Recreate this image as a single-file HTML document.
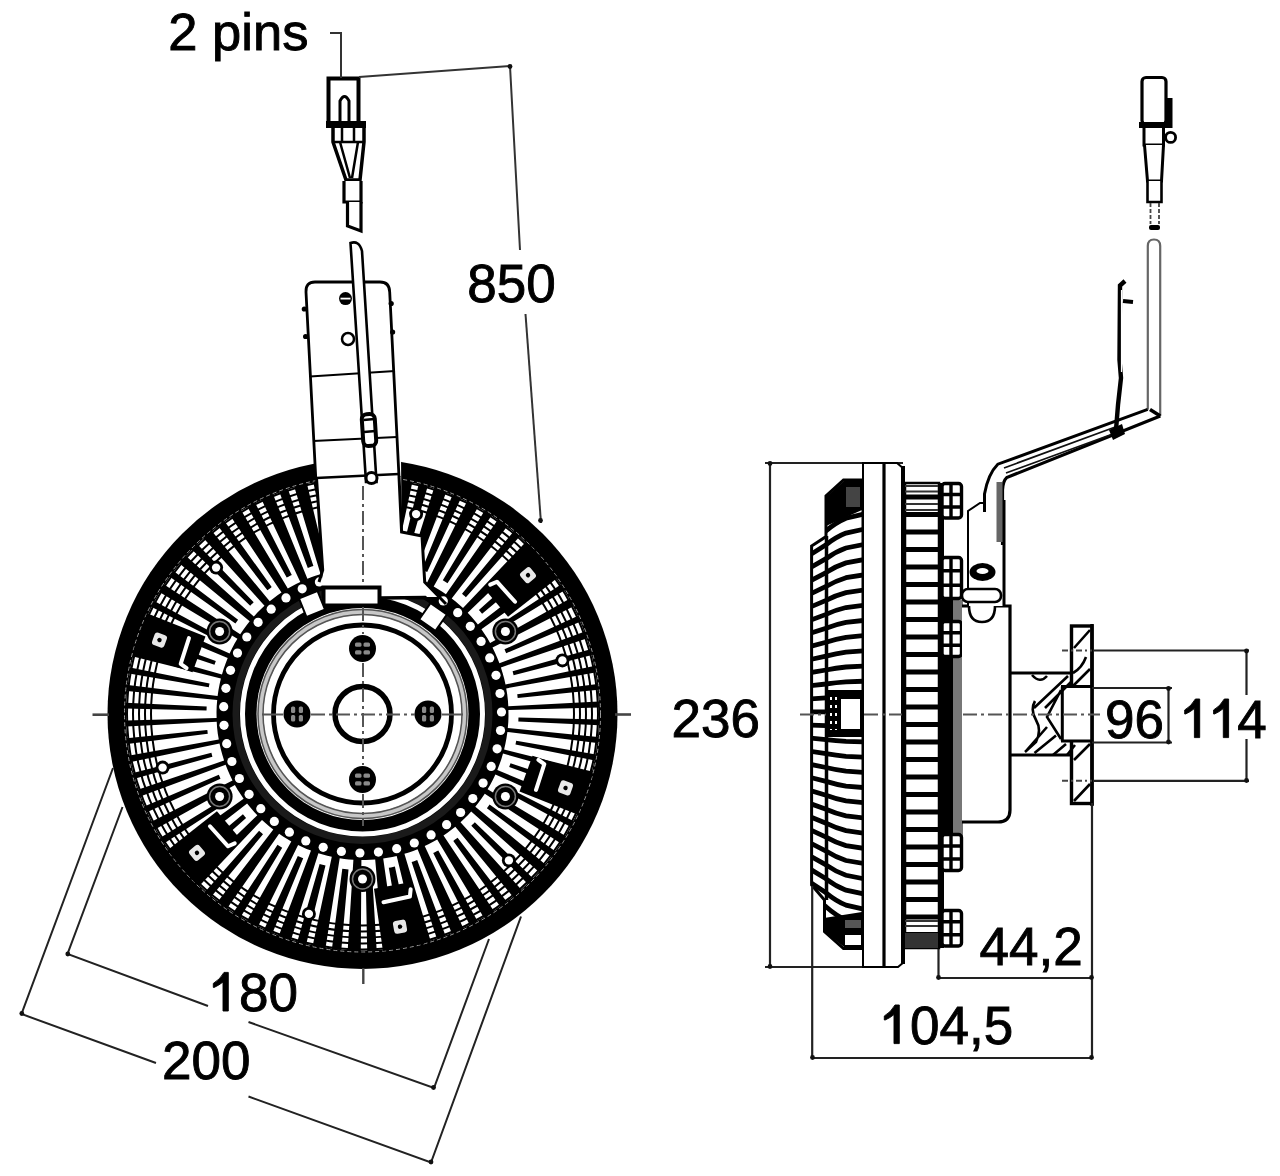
<!DOCTYPE html>
<html><head><meta charset="utf-8"><title>Fan clutch drawing</title>
<style>
html,body{margin:0;padding:0;background:#fff;}
svg{display:block;}
text{font-family:"Liberation Sans",sans-serif;}
</style></head><body>
<svg width="1280" height="1176" viewBox="0 0 1280 1176">
<rect width="1280" height="1176" fill="#fff"/>
<circle cx="362.5" cy="714" r="255" fill="#000"/>
<circle cx="362.5" cy="714" r="238" fill="none" stroke="#999" stroke-width="1" stroke-dasharray="4 3"/>
<path d="M508.4,710.1 L508.5,716.1 L508.3,722.1 L507.8,728.1 L597.9,736.9 L598.6,727.1 L599,717.4 L598.9,707.6ZM507.4,732 L506.5,737.9 L505.4,743.7 L504.1,749.5 L591.9,771.5 L594.1,762.1 L595.8,752.6 L597.2,743.1ZM503,753.6 L501.4,759.1 L499.4,764.6 L497.3,770 L580.9,804.7 L584.3,796 L587.4,787.1 L590.1,778.1ZM495.4,774.4 L493,779.4 L490.4,784.4 L487.6,789.2 L565.2,835.8 L569.7,828 L573.9,820 L577.8,811.8ZM484.8,793.8 L481.7,798.2 L478.6,802.5 L475.3,806.7 L545.2,864.2 L550.5,857.4 L555.7,850.5 L560.5,843.3ZM471.2,811.4 L467.8,815.2 L464.2,818.8 L460.5,822.3 L521.2,889.4 L527.2,883.7 L533,877.9 L538.7,871.8ZM455.3,826.7 L451.4,829.8 L447.5,832.7 L443.5,835.5 L493.7,910.8 L500.2,906.3 L506.6,901.5 L512.8,896.6ZM437.2,839.4 L433.1,841.8 L428.9,844 L424.7,846.1 L463.2,928 L470.1,924.6 L476.9,921 L483.6,917.2ZM417.6,849.2 L413.2,850.9 L408.9,852.4 L404.4,853.8 L430.5,940.5 L437.6,938.3 L444.7,935.8 L451.7,933ZM396.7,855.9 L392.3,856.9 L387.7,857.8 L383.2,858.5 L396,948.1 L403.4,946.9 L410.7,945.5 L418,943.9ZM375.2,859.4 L370.6,859.8 L366,860 L361.4,860 L360.8,950.5 L368.2,950.4 L375.6,950.1 L383.1,949.6ZM353.4,859.7 L348.8,859.4 L344.2,858.9 L339.7,858.2 L325.6,947.6 L332.9,948.6 L340.3,949.5 L347.7,950ZM331.8,856.7 L327.3,855.7 L322.8,854.5 L318.4,853.2 L291.1,939.5 L298.3,941.6 L305.5,943.5 L312.8,945.2ZM311,850.6 L306.6,848.9 L302.3,847 L298.1,845 L258.2,926.2 L265,929.5 L272,932.5 L279,935.3ZM291.3,841.5 L287.2,839.1 L283.1,836.5 L279.1,833.8 L227.4,908.1 L233.9,912.5 L240.5,916.6 L247.2,920.5ZM273.3,829.6 L269.4,826.5 L265.7,823.3 L262,819.9 L199.7,885.5 L205.6,891 L211.8,896.2 L218.1,901.3ZM257.3,815.3 L253.8,811.5 L250.4,807.5 L247.1,803.5 L175.6,858.9 L180.9,865.5 L186.4,871.9 L192.2,878.1ZM243.6,798.8 L240.6,794.3 L237.6,789.7 L234.9,784.9 L155.8,828.9 L160.2,836.6 L165,844 L170,851.3ZM232.5,780.4 L230,775.3 L227.7,770.1 L225.6,764.8 L140.8,796.3 L144.2,804.9 L147.9,813.3 L151.9,821.6ZM224.1,760.6 L222.4,755 L220.8,749.3 L219.5,743.6 L130.9,761.9 L133,771.2 L135.5,780.4 L138.4,789.5ZM218.8,739.6 L217.8,733.7 L217.1,727.7 L216.7,721.7 L126.3,726.5 L127,736.2 L128.2,745.9 L129.7,755.5ZM216.6,717.9 L216.5,711.9 L216.7,705.9 L217.2,699.9 L127.1,691.1 L126.4,700.9 L126,710.6 L126.1,720.4ZM217.6,696 L218.5,690.1 L219.6,684.3 L220.9,678.5 L133.1,656.5 L130.9,665.9 L129.2,675.4 L127.8,684.9ZM222,674.4 L223.6,668.9 L225.6,663.4 L227.7,658 L144.1,623.3 L140.7,632 L137.6,640.9 L134.9,649.9ZM229.6,653.6 L232,648.6 L234.6,643.6 L237.4,638.8 L159.8,592.2 L155.3,600 L151.1,608 L147.2,616.2ZM240.2,634.2 L243.3,629.8 L246.4,625.5 L249.7,621.3 L179.8,563.8 L174.5,570.6 L169.3,577.5 L164.5,584.7ZM253.8,616.6 L257.2,612.8 L260.8,609.2 L264.5,605.7 L203.8,538.6 L197.8,544.3 L192,550.1 L186.3,556.2ZM269.7,601.3 L273.6,598.2 L277.5,595.3 L281.5,592.5 L231.3,517.2 L224.8,521.7 L218.4,526.5 L212.2,531.4ZM287.8,588.6 L291.9,586.2 L296.1,584 L300.3,581.9 L261.8,500 L254.9,503.4 L248.1,507 L241.4,510.8ZM307.4,578.8 L311.8,577.1 L316.1,575.6 L320.6,574.2 L294.5,487.5 L287.4,489.7 L280.3,492.2 L273.3,495ZM328.3,572.1 L332.7,571.1 L337.3,570.2 L341.8,569.5 L329,479.9 L321.6,481.1 L314.3,482.5 L307,484.1ZM349.8,568.6 L354.4,568.2 L359,568 L363.6,568 L364.2,477.5 L356.8,477.6 L349.4,477.9 L341.9,478.4ZM371.6,568.3 L376.2,568.6 L380.8,569.1 L385.3,569.8 L399.4,480.4 L392.1,479.4 L384.7,478.5 L377.3,478ZM393.2,571.3 L397.7,572.3 L402.2,573.5 L406.6,574.8 L433.9,488.5 L426.7,486.4 L419.5,484.5 L412.2,482.8ZM414,577.4 L418.4,579.1 L422.7,581 L426.9,583 L466.8,501.8 L460,498.5 L453,495.5 L446,492.7ZM433.7,586.5 L437.8,588.9 L441.9,591.5 L445.9,594.2 L497.6,519.9 L491.1,515.5 L484.5,511.4 L477.8,507.5ZM451.7,598.4 L455.6,601.5 L459.3,604.7 L463,608.1 L525.3,542.5 L519.4,537 L513.2,531.8 L506.9,526.7ZM467.7,612.7 L471.2,616.5 L474.6,620.5 L477.9,624.5 L549.4,569.1 L544.1,562.5 L538.6,556.1 L532.8,549.9ZM481.4,629.2 L484.4,633.7 L487.4,638.3 L490.1,643.1 L569.2,599.1 L564.8,591.4 L560,584 L555,576.7ZM492.5,647.6 L495,652.7 L497.3,657.9 L499.4,663.2 L584.2,631.7 L580.8,623.1 L577.1,614.7 L573.1,606.4ZM500.9,667.4 L502.6,673 L504.2,678.7 L505.5,684.4 L594.1,666.1 L592,656.8 L589.5,647.6 L586.6,638.5ZM506.2,688.4 L507.2,694.3 L507.9,700.3 L508.3,706.3 L598.7,701.5 L598,691.8 L596.8,682.1 L595.3,672.5Z" fill="#fff"/>
<path d="M518.5,717.5 L518.4,718.8 L518.4,720.1 L518.3,721.4 L599.2,725.2 L599.3,723.2 L599.4,721.3 L599.4,719.4ZM516.2,740.7 L516,742 L515.7,743.3 L515.5,744.5 L594.9,760.4 L595.3,758.4 L595.7,756.5 L596,754.6ZM510.5,763.2 L510.1,764.5 L509.6,765.8 L509.2,767.1 L585.4,794.6 L586.1,792.7 L586.7,790.7 L587.4,788.8ZM501.6,784.6 L500.9,785.9 L500.3,787.2 L499.6,788.5 L570.8,827.1 L571.8,825.2 L572.8,823.2 L573.8,821.3ZM489.6,804.4 L488.7,805.7 L487.8,806.9 L486.9,808.2 L551.4,857.1 L552.8,855.2 L554.2,853.3 L555.6,851.4ZM474.8,822.2 L473.7,823.4 L472.5,824.6 L471.3,825.8 L527.8,883.9 L529.6,882.1 L531.4,880.3 L533.2,878.4ZM457.6,837.7 L456.2,838.7 L454.7,839.8 L453.3,840.9 L500.4,906.8 L502.6,905.1 L504.8,903.5 L507,901.9ZM438.3,850.4 L436.6,851.3 L434.9,852.2 L433.2,853.1 L469.9,925.3 L472.5,923.9 L475,922.6 L477.6,921.2ZM417.2,860.1 L415.3,860.8 L413.4,861.4 L411.6,862.1 L437,939 L439.9,938 L442.8,937 L445.6,935.9ZM394.9,866.6 L392.9,867 L390.9,867.4 L388.8,867.8 L402.5,947.6 L405.6,947 L408.7,946.5 L411.7,945.8ZM371.8,869.7 L369.8,869.8 L367.7,869.9 L365.6,870 L367.2,951 L370.4,950.9 L373.5,950.7 L376.7,950.6ZM348.5,869.4 L346.5,869.2 L344.4,868.9 L342.3,868.7 L331.9,949 L335,949.4 L338.1,949.7 L341.3,950ZM325.5,865.5 L323.5,865 L321.5,864.5 L319.6,864 L297.3,941.8 L300.2,942.7 L303.2,943.5 L306.2,944.2ZM303.2,858.3 L301.4,857.5 L299.6,856.7 L297.8,855.9 L264.2,929.6 L266.9,930.9 L269.6,932 L272.4,933.2ZM282.2,847.8 L280.6,846.8 L279,845.8 L277.5,844.8 L233.3,912.7 L235.7,914.2 L238.1,915.7 L240.5,917.2ZM263,834.2 L261.7,833.1 L260.4,831.9 L259.1,830.8 L205.4,891.4 L207.4,893.2 L209.4,894.9 L211.4,896.6ZM246.1,817.9 L245,816.7 L244,815.4 L242.9,814.2 L180.9,866.2 L182.4,868.1 L184.1,870 L185.7,871.8ZM231.8,799.2 L231,798 L230.2,796.7 L229.4,795.4 L160.3,837.7 L161.5,839.6 L162.8,841.6 L164,843.5ZM220.5,778.7 L220,777.4 L219.4,776.1 L218.8,774.8 L144.2,806.4 L145.1,808.3 L145.9,810.3 L146.8,812.2ZM212.4,756.7 L212.1,755.4 L211.7,754.1 L211.4,752.8 L133,773 L133.5,774.9 L134,776.9 L134.5,778.8ZM207.8,733.8 L207.6,732.5 L207.5,731.2 L207.3,729.9 L126.7,738.2 L126.9,740.2 L127.2,742.1 L127.4,744ZM206.5,710.5 L206.6,709.2 L206.6,707.9 L206.7,706.6 L125.8,702.8 L125.7,704.8 L125.6,706.7 L125.6,708.6ZM208.8,687.3 L209,686 L209.3,684.7 L209.5,683.5 L130.1,667.6 L129.7,669.6 L129.3,671.5 L129,673.4ZM214.5,664.8 L214.9,663.5 L215.4,662.2 L215.8,660.9 L139.6,633.4 L138.9,635.3 L138.3,637.3 L137.6,639.2ZM223.4,643.4 L224.1,642.1 L224.7,640.8 L225.4,639.5 L154.2,600.9 L153.2,602.8 L152.2,604.8 L151.2,606.7ZM235.4,623.6 L236.3,622.3 L237.2,621.1 L238.1,619.8 L173.6,570.9 L172.2,572.8 L170.8,574.7 L169.4,576.6ZM250.2,605.8 L251.3,604.6 L252.5,603.4 L253.7,602.2 L197.2,544.1 L195.4,545.9 L193.6,547.7 L191.8,549.6ZM267.4,590.3 L268.8,589.3 L270.3,588.2 L271.7,587.1 L224.6,521.2 L222.4,522.9 L220.2,524.5 L218,526.1ZM286.7,577.6 L288.4,576.7 L290.1,575.8 L291.8,574.9 L255.1,502.7 L252.5,504.1 L250,505.4 L247.4,506.8ZM307.8,567.9 L309.7,567.2 L311.6,566.6 L313.4,565.9 L288,489 L285.1,490 L282.2,491 L279.4,492.1ZM330.1,561.4 L332.1,561 L334.1,560.6 L336.2,560.2 L322.5,480.4 L319.4,481 L316.3,481.5 L313.3,482.2ZM353.2,558.3 L355.2,558.2 L357.3,558.1 L359.4,558 L357.8,477 L354.6,477.1 L351.5,477.3 L348.3,477.4ZM376.5,558.6 L378.5,558.8 L380.6,559.1 L382.7,559.3 L393.1,479 L390,478.6 L386.9,478.3 L383.7,478ZM399.5,562.5 L401.5,563 L403.5,563.5 L405.4,564 L427.7,486.2 L424.8,485.3 L421.8,484.5 L418.8,483.8ZM421.8,569.7 L423.6,570.5 L425.4,571.3 L427.2,572.1 L460.8,498.4 L458.1,497.1 L455.4,496 L452.6,494.8ZM442.8,580.2 L444.4,581.2 L446,582.2 L447.5,583.2 L491.7,515.3 L489.3,513.8 L486.9,512.3 L484.5,510.8ZM462,593.8 L463.3,594.9 L464.6,596.1 L465.9,597.2 L519.6,536.6 L517.6,534.8 L515.6,533.1 L513.6,531.4ZM478.9,610.1 L480,611.3 L481,612.6 L482.1,613.8 L544.1,561.8 L542.6,559.9 L540.9,558 L539.3,556.2ZM493.2,628.8 L494,630 L494.8,631.3 L495.6,632.6 L564.7,590.3 L563.5,588.4 L562.2,586.4 L561,584.5ZM504.5,649.3 L505,650.6 L505.6,651.9 L506.2,653.2 L580.8,621.6 L579.9,619.7 L579.1,617.7 L578.2,615.8ZM512.6,671.3 L512.9,672.6 L513.3,673.9 L513.6,675.2 L592,655 L591.5,653.1 L591,651.1 L590.5,649.2ZM517.2,694.2 L517.4,695.5 L517.5,696.8 L517.7,698.1 L598.3,689.8 L598.1,687.8 L597.8,685.9 L597.6,684Z" fill="#000"/>
<circle cx="362.5" cy="714" r="211.5" fill="none" stroke="#000" stroke-width="2"/>
<circle cx="362.5" cy="714" r="217.5" fill="none" stroke="#000" stroke-width="2"/>
<circle cx="362.5" cy="714" r="223.5" fill="none" stroke="#000" stroke-width="2"/>
<circle cx="362.5" cy="714" r="229.5" fill="none" stroke="#000" stroke-width="2"/>
<circle cx="362.5" cy="714" r="235.5" fill="none" stroke="#000" stroke-width="2"/>
<g fill="#fff"><circle cx="500.5" cy="730.5" r="4.6"/><circle cx="497.1" cy="748.8" r="4.6"/><circle cx="491.2" cy="766.4" r="4.6"/><circle cx="483.1" cy="783.1" r="4.6"/><circle cx="472.8" cy="798.6" r="4.6"/><circle cx="460.6" cy="812.5" r="4.6"/><circle cx="446.6" cy="824.7" r="4.6"/><circle cx="431.1" cy="834.9" r="4.6"/><circle cx="414.3" cy="843" r="4.6"/><circle cx="396.7" cy="848.7" r="4.6"/><circle cx="378.4" cy="852.1" r="4.6"/><circle cx="359.9" cy="853" r="4.6"/><circle cx="341.4" cy="851.4" r="4.6"/><circle cx="323.2" cy="847.3" r="4.6"/><circle cx="305.8" cy="840.9" r="4.6"/><circle cx="289.4" cy="832.2" r="4.6"/><circle cx="274.3" cy="821.4" r="4.6"/><circle cx="260.8" cy="808.7" r="4.6"/><circle cx="249.1" cy="794.3" r="4.6"/><circle cx="239.4" cy="778.5" r="4.6"/><circle cx="231.9" cy="761.5" r="4.6"/><circle cx="226.7" cy="743.7" r="4.6"/><circle cx="224" cy="725.3" r="4.6"/><circle cx="223.7" cy="706.7" r="4.6"/><circle cx="225.9" cy="688.3" r="4.6"/><circle cx="230.5" cy="670.3" r="4.6"/><circle cx="237.5" cy="653.1" r="4.6"/><circle cx="246.8" cy="637" r="4.6"/><circle cx="258.1" cy="622.3" r="4.6"/><circle cx="271.2" cy="609.2" r="4.6"/><circle cx="286" cy="597.9" r="4.6"/><circle cx="302.2" cy="588.8" r="4.6"/><circle cx="319.4" cy="581.9" r="4.6"/><circle cx="337.4" cy="577.3" r="4.6"/><circle cx="355.8" cy="575.2" r="4.6"/><circle cx="374.4" cy="575.5" r="4.6"/><circle cx="392.8" cy="578.3" r="4.6"/><circle cx="410.6" cy="583.6" r="4.6"/><circle cx="427.5" cy="591.1" r="4.6"/><circle cx="443.3" cy="600.9" r="4.6"/><circle cx="457.7" cy="612.7" r="4.6"/><circle cx="470.3" cy="626.3" r="4.6"/><circle cx="481.1" cy="641.4" r="4.6"/><circle cx="489.7" cy="657.9" r="4.6"/><circle cx="496" cy="675.3" r="4.6"/><circle cx="500" cy="693.5" r="4.6"/><circle cx="501.5" cy="712" r="4.6"/></g>
<circle cx="362.5" cy="714" r="126.5" fill="none" stroke="#1a1a1a" stroke-width="7"/>
<circle cx="362.5" cy="714" r="120" fill="none" stroke="#fff" stroke-width="5"/>
<circle cx="362.5" cy="714" r="111.8" fill="#000"/>
<circle cx="362.5" cy="714" r="106" fill="#fff"/>
<circle cx="362.5" cy="714" r="102" fill="none" stroke="#c8c8c8" stroke-width="6"/>
<circle cx="362.5" cy="714" r="104.5" fill="none" stroke="#555" stroke-width="1.5"/>
<circle cx="362.5" cy="714" r="99.5" fill="none" stroke="#555" stroke-width="1.5"/>
<circle cx="362.5" cy="714" r="89" fill="#fff" stroke="#000" stroke-width="4.8"/>
<circle cx="219.6" cy="631.5" r="13" fill="#000"/>
<circle cx="219.6" cy="631.5" r="10" fill="none" stroke="#777" stroke-width="1.5"/>
<circle cx="219.6" cy="631.5" r="4.5" fill="#fff"/>
<circle cx="505.4" cy="631.5" r="13" fill="#000"/>
<circle cx="505.4" cy="631.5" r="10" fill="none" stroke="#777" stroke-width="1.5"/>
<circle cx="505.4" cy="631.5" r="4.5" fill="#fff"/>
<circle cx="505.4" cy="796.5" r="13" fill="#000"/>
<circle cx="505.4" cy="796.5" r="10" fill="none" stroke="#777" stroke-width="1.5"/>
<circle cx="505.4" cy="796.5" r="4.5" fill="#fff"/>
<circle cx="362.5" cy="879" r="13" fill="#000"/>
<circle cx="362.5" cy="879" r="10" fill="none" stroke="#777" stroke-width="1.5"/>
<circle cx="362.5" cy="879" r="4.5" fill="#fff"/>
<circle cx="219.6" cy="796.5" r="13" fill="#000"/>
<circle cx="219.6" cy="796.5" r="10" fill="none" stroke="#777" stroke-width="1.5"/>
<circle cx="219.6" cy="796.5" r="4.5" fill="#fff"/>
<g transform="translate(159.5 640.1) rotate(-160)"><path d="M-42,-19 L21,-21 L21,21 L-42,19 Z" fill="#000"/><rect x="-6.5" y="-6.5" width="13" height="13" rx="3" fill="#e8e8e8"/><circle r="2.2" fill="#000"/><path d="M-35,-17 L-28,-15 L-27,12" fill="none" stroke="#fff" stroke-width="4" stroke-linecap="round" stroke-linejoin="round"/></g>
<g transform="translate(528 575.2) rotate(-40)"><path d="M-42,-19 L21,-21 L21,21 L-42,19 Z" fill="#000"/><rect x="-6.5" y="-6.5" width="13" height="13" rx="3" fill="#e8e8e8"/><circle r="2.2" fill="#000"/><path d="M-35,-17 L-28,-15 L-27,12" fill="none" stroke="#fff" stroke-width="4" stroke-linecap="round" stroke-linejoin="round"/></g>
<g transform="translate(565.5 787.9) rotate(20)"><path d="M-42,-19 L21,-21 L21,21 L-42,19 Z" fill="#000"/><rect x="-6.5" y="-6.5" width="13" height="13" rx="3" fill="#e8e8e8"/><circle r="2.2" fill="#000"/><path d="M-35,-17 L-28,-15 L-27,12" fill="none" stroke="#fff" stroke-width="4" stroke-linecap="round" stroke-linejoin="round"/></g>
<g transform="translate(400 926.7) rotate(80)"><path d="M-42,-19 L21,-21 L21,21 L-42,19 Z" fill="#000"/><rect x="-6.5" y="-6.5" width="13" height="13" rx="3" fill="#e8e8e8"/><circle r="2.2" fill="#000"/><path d="M-35,-17 L-28,-15 L-27,12" fill="none" stroke="#fff" stroke-width="4" stroke-linecap="round" stroke-linejoin="round"/></g>
<g transform="translate(197 852.8) rotate(140)"><path d="M-42,-19 L21,-21 L21,21 L-42,19 Z" fill="#000"/><rect x="-6.5" y="-6.5" width="13" height="13" rx="3" fill="#e8e8e8"/><circle r="2.2" fill="#000"/><path d="M-35,-17 L-28,-15 L-27,12" fill="none" stroke="#fff" stroke-width="4" stroke-linecap="round" stroke-linejoin="round"/></g>
<circle cx="216.1" cy="567.6" r="7" fill="#000"/><circle cx="216.1" cy="567.6" r="4.2" fill="#fff"/>
<circle cx="416.1" cy="514.1" r="7" fill="#000"/><circle cx="416.1" cy="514.1" r="4.2" fill="#fff"/>
<circle cx="562.4" cy="660.4" r="7" fill="#000"/><circle cx="562.4" cy="660.4" r="4.2" fill="#fff"/>
<circle cx="508.9" cy="860.4" r="7" fill="#000"/><circle cx="508.9" cy="860.4" r="4.2" fill="#fff"/>
<circle cx="308.9" cy="913.9" r="7" fill="#000"/><circle cx="308.9" cy="913.9" r="4.2" fill="#fff"/>
<circle cx="162.6" cy="767.6" r="7" fill="#000"/><circle cx="162.6" cy="767.6" r="4.2" fill="#fff"/>
<g transform="translate(362.5 648.5) rotate(0)"><circle r="13.5" fill="#000"/><g fill="#8a8a8a"><rect x="-7.5" y="-6" width="6.5" height="4.2" rx="1.5"/><rect x="1" y="-6" width="6.5" height="4.2" rx="1.5"/><rect x="-7.5" y="1.8" width="6.5" height="4.2" rx="1.5"/><rect x="1" y="1.8" width="6.5" height="4.2" rx="1.5"/></g></g>
<g transform="translate(428 714) rotate(90)"><circle r="13.5" fill="#000"/><g fill="#8a8a8a"><rect x="-7.5" y="-6" width="6.5" height="4.2" rx="1.5"/><rect x="1" y="-6" width="6.5" height="4.2" rx="1.5"/><rect x="-7.5" y="1.8" width="6.5" height="4.2" rx="1.5"/><rect x="1" y="1.8" width="6.5" height="4.2" rx="1.5"/></g></g>
<g transform="translate(362.5 779.5) rotate(0)"><circle r="13.5" fill="#000"/><g fill="#8a8a8a"><rect x="-7.5" y="-6" width="6.5" height="4.2" rx="1.5"/><rect x="1" y="-6" width="6.5" height="4.2" rx="1.5"/><rect x="-7.5" y="1.8" width="6.5" height="4.2" rx="1.5"/><rect x="1" y="1.8" width="6.5" height="4.2" rx="1.5"/></g></g>
<g transform="translate(297 714) rotate(90)"><circle r="13.5" fill="#000"/><g fill="#8a8a8a"><rect x="-7.5" y="-6" width="6.5" height="4.2" rx="1.5"/><rect x="1" y="-6" width="6.5" height="4.2" rx="1.5"/><rect x="-7.5" y="1.8" width="6.5" height="4.2" rx="1.5"/><rect x="1" y="1.8" width="6.5" height="4.2" rx="1.5"/></g></g>
<circle cx="362.5" cy="714" r="27.5" fill="#fff" stroke="#000" stroke-width="5.5"/>
<path d="M316,455 L401,455 L401.6,532 L422,536 L424.7,582 L438,597 L380,597 L380,586 L321,586 L323,572 Z" fill="#fff"/>
<path d="M316.5,478 L322.7,570 L319,582" fill="none" stroke="#000" stroke-width="3"/>
<path d="M399,476 L401.6,532 L422,536 L424.7,582 L446,604" fill="none" stroke="#000" stroke-width="3"/>
<rect x="323.5" y="587.5" width="56" height="18" fill="#fff" stroke="#000" stroke-width="4"/>
<path d="M380,598 L425,597.5 L446,614" fill="none" stroke="#000" stroke-width="3.5"/>
<g transform="translate(312 604) rotate(-22)"><rect x="-10" y="-10" width="20" height="20" fill="#fff" stroke="#000" stroke-width="2"/></g>
<g transform="translate(433 617) rotate(35)"><rect x="-10" y="-10" width="20" height="20" fill="#fff" stroke="#000" stroke-width="2"/></g>
<line x1="92.5" y1="714.7" x2="109" y2="714.7" stroke="#444" stroke-width="2.6"/>
<line x1="615" y1="714.5" x2="631" y2="714.5" stroke="#444" stroke-width="2.6"/>
<line x1="311" y1="714.5" x2="415" y2="714.5" stroke="#555" stroke-width="2" stroke-dasharray="14 4 3 4"/>
<line x1="262" y1="714.5" x2="283" y2="714.5" stroke="#555" stroke-width="2"/>
<line x1="442" y1="714.5" x2="463" y2="714.5" stroke="#555" stroke-width="2"/>
<line x1="363" y1="486" x2="363" y2="584" stroke="#555" stroke-width="2" stroke-dasharray="14 4 3 4"/>
<line x1="363" y1="607" x2="363" y2="634" stroke="#555" stroke-width="2" stroke-dasharray="14 4 3 4"/>
<line x1="363" y1="663" x2="363" y2="765" stroke="#555" stroke-width="2" stroke-dasharray="14 4 3 4"/>
<line x1="363" y1="794" x2="363" y2="826" stroke="#555" stroke-width="2" stroke-dasharray="14 4 3 4"/>
<line x1="363.3" y1="968" x2="363.3" y2="984" stroke="#444" stroke-width="2.4"/>
<path d="M315.7,477 L306,292 Q305.5,282 315,282 L380,282 Q389.5,282 389.7,292 L399,477" fill="#fff" stroke="#000" stroke-width="2.8"/>
<path d="M316,478 L399,474" stroke="#000" stroke-width="2.5"/>
<path d="M310,376.5 L395,371" stroke="#000" stroke-width="2.2"/>
<path d="M313,441 L397,437" stroke="#000" stroke-width="2.2"/>
<circle cx="345.5" cy="298.6" r="6.5" fill="#000"/>
<path d="M340.5,298.6 L350.5,298.6" stroke="#fff" stroke-width="1.8"/>
<g fill="#000"><circle cx="304.3" cy="309" r="2.6"/><circle cx="305.6" cy="336.5" r="2.6"/><circle cx="391.2" cy="303.5" r="2.6"/><circle cx="392.6" cy="332" r="2.6"/></g>
<circle cx="348" cy="339" r="6" fill="#fff" stroke="#000" stroke-width="2.5"/>
<path d="M350.5,243 L366,482 L376.5,482 L362,251 Q359,240 350.5,243 Z" fill="#fff" stroke="#000" stroke-width="2.6"/>
<rect x="362.5" y="414" width="13" height="32" rx="5" fill="#fff" stroke="#000" stroke-width="4" transform="rotate(-3.7 369 430)"/>
<path d="M363.5,420 L374.5,419 M364,432 L375.5,431" stroke="#000" stroke-width="2.5"/>
<circle cx="371.5" cy="478" r="5.5" fill="#fff" stroke="#000" stroke-width="3"/>
<rect x="328.5" y="78.5" width="30" height="46" fill="#fff" stroke="#000" stroke-width="4"/>
<path d="M340,126 L340,101 Q344.5,92 349,101 L349,126" fill="none" stroke="#000" stroke-width="3"/>
<rect x="326" y="121" width="40" height="7" fill="#000"/>
<path d="M333,128 L333,142 L346,180 L360,180 L364,142 L364,128" fill="#fff" stroke="#000" stroke-width="3.5"/>
<path d="M342,128 L342,142 M354,128 L354,142 M333,142 L364,142 M340,142 L350,178 M358,142 L352,178" stroke="#000" stroke-width="2.5"/>
<path d="M344,181 L344,202 L361,202 L361,181" fill="#fff" stroke="#000" stroke-width="3.2"/>
<path d="M347.5,202 L347.5,226 L361,231 L361,202" fill="#fff" stroke="#000" stroke-width="3.2"/>
<path d="M330,33 L341,33 L341,78" fill="none" stroke="#333" stroke-width="2"/>
<path d="M359,77 L510,66 L520,250" fill="none" stroke="#333" stroke-width="2"/>
<path d="M525.5,314 L541,523" fill="none" stroke="#333" stroke-width="2"/>
<path d="M122.5,807 L67.5,954 L208,1006" fill="none" stroke="#222" stroke-width="2"/>
<path d="M248.5,1022 L434,1088 L489,939" fill="none" stroke="#222" stroke-width="2"/>
<path d="M113,768 L21.5,1014 L156,1063" fill="none" stroke="#222" stroke-width="2"/>
<path d="M248.5,1096.5 L431,1162.5 L521,916.5" fill="none" stroke="#222" stroke-width="2"/>
<path d="M765,463 L903,463 M770,463 L770,967 M765,967 L866,967" fill="none" stroke="#222" stroke-width="2.2"/>
<clipPath id="cf"><path d="M843.5,480 L863,480 L863,948.6 L843.5,948.6 L824.5,931.6 L824.5,900 L811.6,885 L811.6,546 L826,536.6 L826,495.8 Z"/></clipPath>
<path d="M843.5,480 L863,480 L863,948.6 L843.5,948.6 L824.5,931.6 L824.5,900 L811.6,885 L811.6,546 L826,536.6 L826,495.8 Z" fill="#fff"/>
<g clip-path="url(#cf)">
<path d="M864,514 L846,518.2 Q836,522.4 826,530.8 L809,542.4 M864,529.2 L846,533.1 Q836,537 826,544.8 L809,555.5 M864,544.4 L846,548 Q836,551.5 826,558.7 L809,568.5 M864,559.6 L846,562.9 Q836,566.1 826,572.6 L809,581.5 M864,574.8 L846,577.7 Q836,580.7 826,586.5 L809,594.6 M864,590 L846,592.6 Q836,595.2 826,600.4 L809,607.6 M864,605.2 L846,607.5 Q836,609.8 826,614.4 L809,620.7 M864,620.4 L846,622.4 Q836,624.3 826,628.3 L809,633.7 M864,635.6 L846,637.3 Q836,638.9 826,642.2 L809,646.7 M864,650.8 L846,652.1 Q836,653.5 826,656.1 L809,659.8 M864,666 L846,667 Q836,668 826,670 L809,672.8 M864,681.2 L846,681.9 Q836,682.6 826,684 L809,685.9 M864,696.4 L846,696.8 Q836,697.1 826,697.9 L809,698.9 M864,711.6 L846,711.7 Q836,711.7 826,711.8 L809,711.9 M864,726.8 L846,726.5 Q836,726.3 826,725.7 L809,725 M864,742 L846,741.4 Q836,740.8 826,739.6 L809,738 M864,757.2 L846,756.3 Q836,755.4 826,753.6 L809,751.1 M864,772.4 L846,771.2 Q836,769.9 826,767.5 L809,764.1 M864,787.6 L846,786.1 Q836,784.5 826,781.4 L809,777.1 M864,802.8 L846,800.9 Q836,799.1 826,795.3 L809,790.2 M864,818 L846,815.8 Q836,813.6 826,809.2 L809,803.2 M864,833.2 L846,830.7 Q836,828.2 826,823.2 L809,816.3 M864,848.4 L846,845.6 Q836,842.7 826,837.1 L809,829.3 M864,863.6 L846,860.5 Q836,857.3 826,851 L809,842.3 M864,878.8 L846,875.3 Q836,871.9 826,864.9 L809,855.4 M864,894 L846,890.2 Q836,886.4 826,878.8 L809,868.4 M864,909.2 L846,905.1 Q836,901 826,892.8 L809,881.5 M864,924.4 L846,920 Q836,915.5 826,906.7 L809,894.5" fill="none" stroke="#000" stroke-width="4.8"/>
<path d="M826,497 L844,481 L862,481 L862,510 L826,526 Z" fill="#000"/>
<rect x="846" y="487" width="14" height="20" fill="#444"/>
<path d="M824,918 L862,912 L862,947 L844,947 L824,931 Z" fill="#000"/>
<rect x="845" y="935" width="16" height="10" fill="#fff"/>
<rect x="845" y="920" width="16" height="8" fill="#555"/>
<path d="M826.5,536 L826.5,900" stroke="#000" stroke-width="3.5"/>
<rect x="826" y="690" width="37" height="47" fill="#000"/>
<rect x="841" y="699" width="19" height="30" fill="#fff"/>
<path d="M831,697 L831,730 M836,697 L836,730" stroke="#fff" stroke-width="2" stroke-dasharray="3 5"/>
</g>
<path d="M843.5,480 L863,480 L863,948.6 L843.5,948.6 L824.5,931.6 L824.5,900 L811.6,885 L811.6,546 L826,536.6 L826,495.8 Z" fill="none" stroke="#000" stroke-width="3"/>
<path d="M863,463 L897,463 L904,469 L904,962 L898,967 L863,967 Z" fill="#fff" stroke="#000" stroke-width="2"/>
<path d="M884,464 L884,966" stroke="#000" stroke-width="3.2"/>
<path d="M903,466 L903,964" stroke="#000" stroke-width="4"/>
<rect x="905" y="483" width="34" height="465" fill="#fff" stroke="#000" stroke-width="2.5"/>
<path d="M905,497 L939,497 M905,514.5 L939,514.5 M905,532 L939,532 M905,549.5 L939,549.5 M905,567 L939,567 M905,584.5 L939,584.5 M905,602 L939,602 M905,619.5 L939,619.5 M905,637 L939,637 M905,654.5 L939,654.5 M905,672 L939,672 M905,689.5 L939,689.5 M905,707 L939,707 M905,724.5 L939,724.5 M905,742 L939,742 M905,759.5 L939,759.5 M905,777 L939,777 M905,794.5 L939,794.5 M905,812 L939,812 M905,829.5 L939,829.5 M905,847 L939,847 M905,864.5 L939,864.5 M905,882 L939,882 M905,899.5 L939,899.5 M905,917 L939,917 M905,934.5 L939,934.5" stroke="#000" stroke-width="5"/>
<path d="M905,486 L939,486 M905,491.5 L939,491.5 M905,504 L939,504 M905,510 L939,510" stroke="#333" stroke-width="2.2"/>
<rect x="905" y="933" width="34" height="15" fill="#333"/>
<path d="M905,921 L939,921 M905,926 L939,926" stroke="#333" stroke-width="2.2"/>
<rect x="938" y="483" width="6" height="465" fill="#000"/>
<rect x="943" y="600" width="10" height="236" fill="#000"/>
<rect x="953" y="600" width="10" height="236" fill="#777"/>
<rect x="942" y="483.5" width="19.5" height="34.5" rx="3" fill="#fff" stroke="#000" stroke-width="3.4"/>
<path d="M951,484 L951,517.5 M943,494.5 L960,494.5 M943,507 L960,507" stroke="#000" stroke-width="3.4"/>
<rect x="942" y="557.5" width="19.5" height="41" rx="3" fill="#fff" stroke="#000" stroke-width="3.4"/>
<path d="M951,558 L951,598 M943,570.7 L960,570.7 M943,585.3 L960,585.3" stroke="#000" stroke-width="3.4"/>
<rect x="942" y="621.5" width="19.5" height="35" rx="3" fill="#fff" stroke="#000" stroke-width="3.4"/>
<path d="M951,622 L951,656 M943,632.7 L960,632.7 M943,645.3 L960,645.3" stroke="#000" stroke-width="3.4"/>
<rect x="942" y="834.5" width="19.5" height="36" rx="3" fill="#fff" stroke="#000" stroke-width="3.4"/>
<path d="M951,835 L951,870 M943,846 L960,846 M943,859 L960,859" stroke="#000" stroke-width="3.4"/>
<rect x="942" y="910.5" width="19.5" height="35.5" rx="3" fill="#fff" stroke="#000" stroke-width="3.4"/>
<path d="M951,911 L951,945.5 M943,921.8 L960,921.8 M943,934.7 L960,934.7" stroke="#000" stroke-width="3.4"/>
<path d="M962,606 L1010,606 L1010,810 Q1010,822 998,822 L962,822" fill="#fff" stroke="#000" stroke-width="3.2"/>
<path d="M968,606 L968,511 L980,503 L1004,503 L1004,606" fill="#fff" stroke="#000" stroke-width="2"/>
<path d="M1004,500 L1004,606" stroke="#000" stroke-width="3"/>
<path d="M1147.8,414 L1147.8,246 Q1147.8,239.5 1154,239.5 Q1160.2,239.5 1160.2,246 L1160.2,416" fill="#fff" stroke="#666" stroke-width="2.2"/>
<path d="M1147.7,409.3 L1160.3,416 L1006.7,477.6 Q1003,481 1002.5,490 L1002.5,545 L996.5,545 L996.5,520 L984.5,512 L984.5,494 Q988,474 997.8,464.2 Z" fill="#fff"/>
<path d="M1147.7,409.3 L997.8,464.2 Q988,474 984.5,494 L984.5,512" fill="none" stroke="#000" stroke-width="3"/>
<path d="M1160.3,416 L1006.7,477.6 Q1003,481 1002.5,490 L1002.5,545" fill="none" stroke="#000" stroke-width="3.2"/>
<path d="M1160.3,416 L1150,409.5" fill="none" stroke="#000" stroke-width="3.5"/>
<path d="M1118,426 L1004,468 M1121,431 L1006,473" fill="none" stroke="#111" stroke-width="1.8"/>
<rect x="996.5" y="482" width="6" height="60" fill="#666"/>
<path d="M1109,430 L1122,424 L1125,434 L1113,440 Z" fill="#000"/>
<path d="M1125,281 L1120,285.5 L1119.5,360 L1121,378 L1118,405 L1116,430" fill="none" stroke="#000" stroke-width="4.4"/>
<path d="M1121.5,290 L1121.5,372" fill="none" stroke="#fff" stroke-width="1.2"/>
<path d="M1123,301 L1133,302" stroke="#000" stroke-width="4"/>
<ellipse cx="982.5" cy="572" rx="13" ry="9" fill="#000"/>
<ellipse cx="982.5" cy="571" rx="6" ry="3" fill="#fff"/>
<rect x="962" y="589" width="39" height="13" rx="6" fill="#fff" stroke="#000" stroke-width="2.6"/>
<path d="M969,606 Q969,622 982,622 Q995,622 995,606" fill="#fff" stroke="#000" stroke-width="2.6"/>
<path d="M1010,673 L1071,673 M1010,755 L1071,755" stroke="#000" stroke-width="3.2"/>
<rect x="1071.5" y="626" width="20.5" height="177.5" fill="#fff" stroke="#000" stroke-width="3.4"/>
<rect x="1063.5" y="688" width="27" height="52" fill="#fff"/>
<path d="M1062.3,686.5 L1062.3,741 M1061,686.5 L1093,686.5 M1061,741 L1093,741" stroke="#000" stroke-width="3"/>
<path d="M1092,624 L1092,806" stroke="#000" stroke-width="3.4"/>
<path d="M1061,690 L1047,717 L1061,739 M1068,676 L1034,708 M1071,682 L1045,708 M1032,675 Q1040,684 1047,676 M1035,701 Q1030,710 1036,720 Q1042,730 1036,742 L1025,752 M1026,751 L1047,727 M1034.5,753 L1056,735.5 M1053,755 L1066,744 M1067,755 L1075,745 M1073,686 L1090,669 M1074,648 L1090,630 M1074,760 L1090,744 M1074,801 L1090,784 M1073,673 Q1082,668 1086,657" fill="none" stroke="#000" stroke-width="2.6"/>
<path d="M1062,650.5 L1092,650.5 M1062,780.8 L1092,780.8" stroke="#444" stroke-width="2" stroke-dasharray="6 3 2 3"/>
<rect x="1142" y="77.5" width="24" height="47" rx="4" fill="#fff" stroke="#000" stroke-width="3.2"/>
<rect x="1139" y="122" width="31" height="6" fill="#000"/>
<rect x="1167" y="98" width="5.5" height="30" fill="#000"/>
<circle cx="1170.6" cy="137.4" r="5" fill="#fff" stroke="#000" stroke-width="2.8"/>
<path d="M1144,128 L1144,145 L1163.5,145 L1163.5,128" fill="#fff" stroke="#000" stroke-width="3"/>
<path d="M1144.5,145 L1147.5,181 L1161.5,181 L1163.5,145" fill="#fff" stroke="#000" stroke-width="3"/>
<path d="M1147.5,181 L1147.5,202 L1161.5,202 L1161.5,181" fill="#fff" stroke="#000" stroke-width="2.6"/>
<path d="M1150.5,203 L1150.5,224 M1159,203 L1159,224" stroke="#444" stroke-width="1.8" stroke-dasharray="4 2"/>
<rect x="1149" y="225" width="11" height="5" rx="2" fill="#000"/>
<line x1="800" y1="714.5" x2="826" y2="714.5" stroke="#555" stroke-width="2" stroke-dasharray="14 4 3 4"/>
<line x1="864" y1="714.5" x2="902" y2="714.5" stroke="#555" stroke-width="2" stroke-dasharray="14 4 3 4"/>
<line x1="963" y1="714.5" x2="1100" y2="714.5" stroke="#555" stroke-width="2" stroke-dasharray="14 4 3 4"/>
<path d="M1093,650.5 L1249,650.5 M1093,780.8 L1249,780.8 M1246.5,650 L1246.5,695 M1246.5,739 L1246.5,781" fill="none" stroke="#222" stroke-width="2.2"/>
<path d="M1092,688 L1172,688 M1092,742.5 L1172,742.5 M1168.5,688 L1168.5,742.5" fill="none" stroke="#222" stroke-width="2.2"/>
<path d="M938.5,949 L938.5,978 L1092,978 M1092,803 L1092,1059 M812.2,886 L812.2,1058 L1092,1058" fill="none" stroke="#222" stroke-width="2.2"/>
<g fill="#111"><circle cx="510" cy="66.5" r="2.4"/><circle cx="540.5" cy="520.5" r="2.4"/><circle cx="67.8" cy="954" r="2.4"/><circle cx="21.8" cy="1013.5" r="2.4"/><circle cx="433.5" cy="1087.5" r="2.4"/><circle cx="431" cy="1162" r="2.4"/><circle cx="770" cy="463.5" r="2.4"/><circle cx="770" cy="966.5" r="2.4"/><circle cx="1246.5" cy="651" r="2.4"/><circle cx="1246.5" cy="780.5" r="2.4"/><circle cx="1168.5" cy="688.5" r="2.4"/><circle cx="1168.5" cy="742" r="2.4"/><circle cx="938.5" cy="977.5" r="2.4"/><circle cx="1091.5" cy="977.5" r="2.4"/><circle cx="812.5" cy="1057.5" r="2.4"/><circle cx="1091.5" cy="1057.5" r="2.4"/></g>
<g fill="#000" stroke="#000" stroke-width="0.9"><text x="168.3" y="50.3" font-size="52.5">2 pins</text><text x="467.3" y="301.6" font-size="53">850</text><path transform="translate(209.6 1011)" d="M18.7,-38.6 L18.7,0 L13.4,0 L13.4,-29 Q9.2,-25.6 4.6,-23.6 L3.7,-23.6 L3.7,-27.6 Q10.2,-31.2 14.4,-38.6 Z"/><text x="209.6" y="1011" font-size="53">&#8199;80</text><text x="162" y="1079" font-size="53">200</text><text x="671.6" y="737.4" font-size="53">236</text><text x="1105" y="737.6" font-size="53">96</text><path transform="translate(1181 737.6)" d="M18.7,-38.6 L18.7,0 L13.4,0 L13.4,-29 Q9.2,-25.6 4.6,-23.6 L3.7,-23.6 L3.7,-27.6 Q10.2,-31.2 14.4,-38.6 Z"/><path transform="translate(1209.9 737.6)" d="M18.7,-38.6 L18.7,0 L13.4,0 L13.4,-29 Q9.2,-25.6 4.6,-23.6 L3.7,-23.6 L3.7,-27.6 Q10.2,-31.2 14.4,-38.6 Z"/><text x="1181" y="737.6" font-size="53" letter-spacing="-0.6">&#8199;&#8199;</text><text x="1237.2" y="737.6" font-size="53">4</text><text x="979.5" y="965.4" font-size="53">44,2</text><path transform="translate(880.6 1043.6)" d="M18.7,-38.6 L18.7,0 L13.4,0 L13.4,-29 Q9.2,-25.6 4.6,-23.6 L3.7,-23.6 L3.7,-27.6 Q10.2,-31.2 14.4,-38.6 Z"/><text x="880.6" y="1043.6" font-size="53">&#8199;04,5</text></g>
</svg>
</body></html>
